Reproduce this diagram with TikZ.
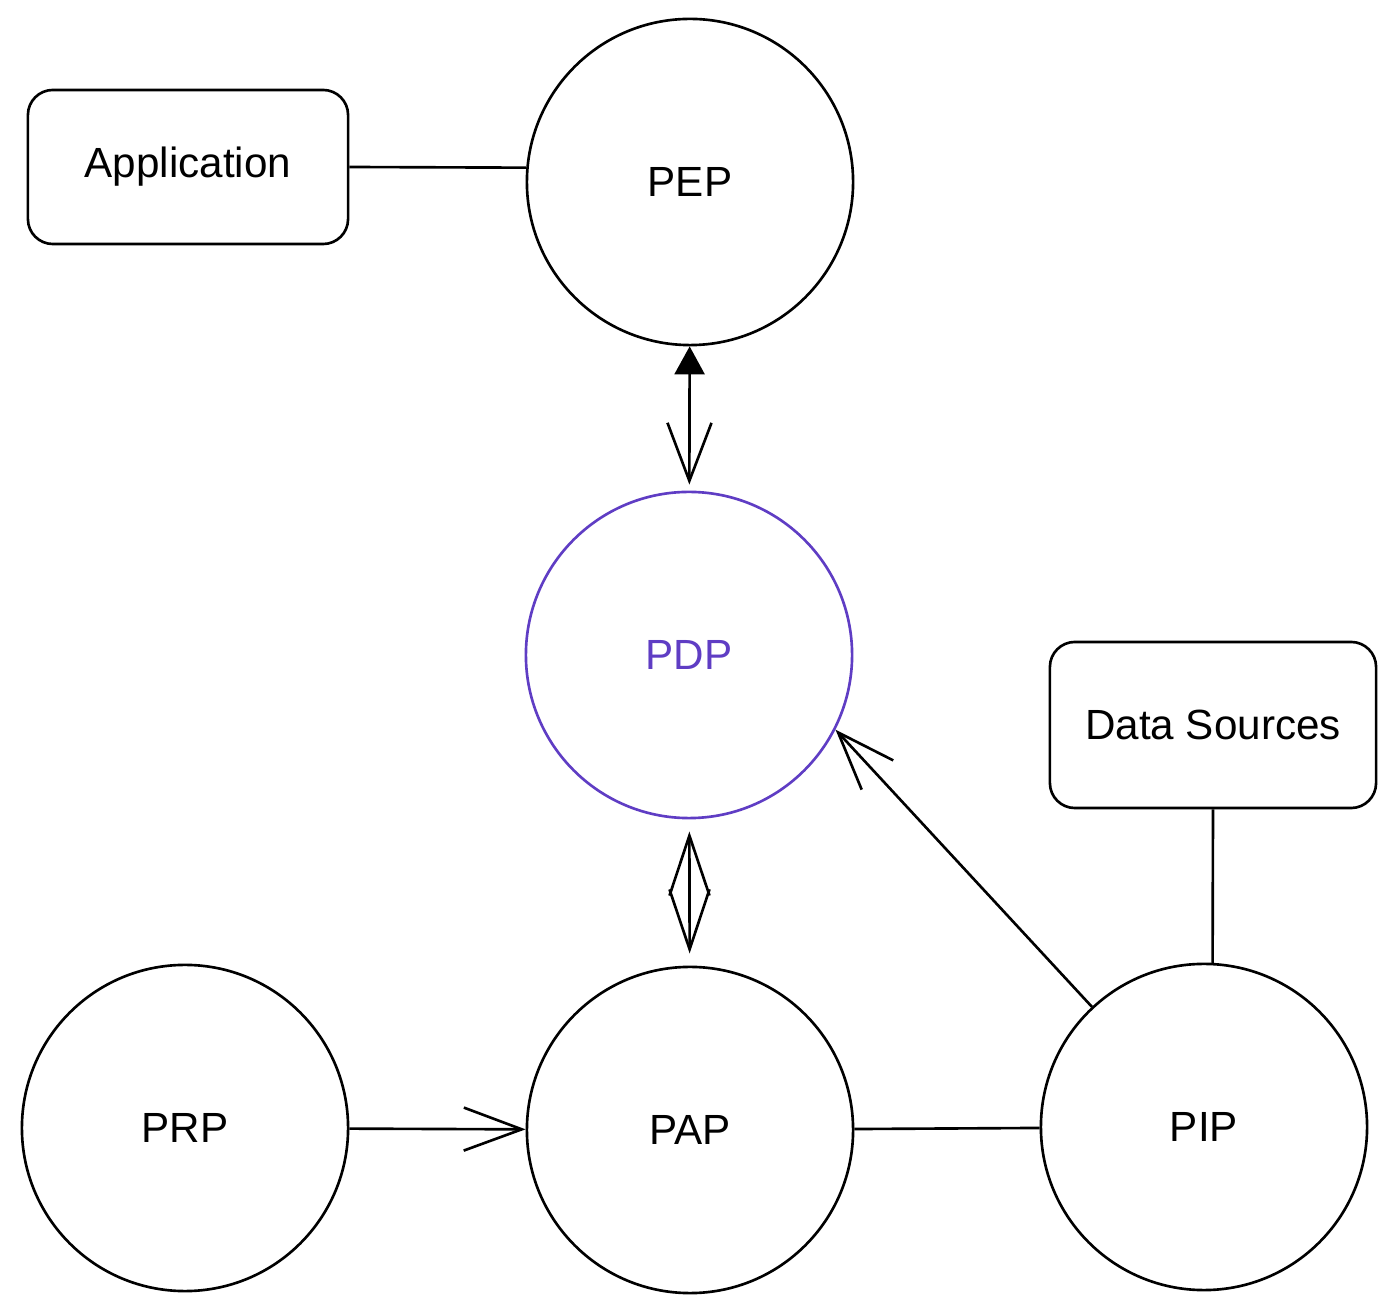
\documentclass[tikz,border=0pt]{standalone}
\usepackage{fontspec}
\setmainfont{Liberation Sans}
\usetikzlibrary{arrows.meta}
\definecolor{violet}{HTML}{5F3DC4}
\tikzset{
  unit/.style={circle, draw, line width=0.75pt, minimum size=3.26cm, inner sep=0pt, font=\fontsize{12}{14}\selectfont},
  box/.style={rectangle, draw, line width=0.75pt, rounded corners=0.25cm, inner sep=0pt, font=\fontsize{12}{14}\selectfont},
  conn/.style={line width=0.75pt},
  barb/.style={-{Straight Barb[length=0.58cm, width=0.43cm, line width=0.75pt]}},
}
\begin{document}
\begin{tikzpicture}[x=0.01cm,y=-0.01cm]
\useasboundingbox[fill=white] (0,0) rectangle (1396,1313);
\node[box, minimum width=3.2cm, minimum height=1.54cm] (app) at (188,167) {Application};
\node[unit] (pep) at (690,182) {PEP};
\node[unit, draw=violet, text=violet] (pdp) at (689,655) {PDP};
\node[box, minimum width=3.26cm, minimum height=1.66cm] (ds) at (1213,725) {Data Sources};
\node[unit] (prp) at (185,1128) {PRP};
\node[unit] (pap) at (690,1130) {PAP};
\node[unit] (pip) at (1204,1127) {PIP};

\draw[conn] (app.east) -- (pep.175);
\draw[conn, {Triangle[length=0.28cm, width=0.3cm]}-{Straight Barb[length=0.58cm, width=0.44cm, line width=0.75pt]}, shorten >=0.06cm] (pep) -- (pdp);
\draw[conn, {Straight Barb[length=0.6cm, width=0.4cm, line width=0.75pt]}-{Straight Barb[length=0.6cm, width=0.4cm, line width=0.75pt]}, shorten >=0.12cm, shorten <=0.12cm] (pdp) -- (pap);
\draw[conn, barb] (prp) -- (pap);
\draw[conn] (pap) -- (pip);
\draw[conn, barb] (pip.133) -- (pdp.-27);
\draw[conn] (ds.south) -- (pip.87);
\end{tikzpicture}
\end{document}
